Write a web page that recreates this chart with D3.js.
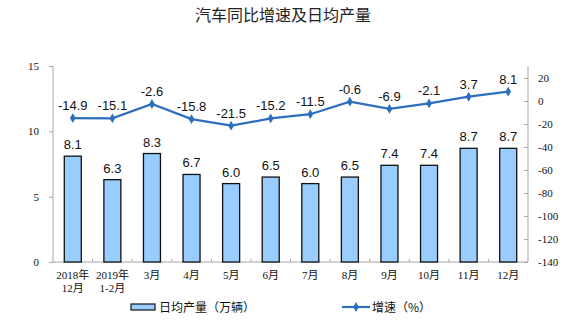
<!DOCTYPE html>
<html>
<head>
<meta charset="utf-8">
<script src="https://cdn.jsdelivr.net/npm/d3@7/dist/d3.min.js"></script>
<style>
  html, body { margin: 0; padding: 0; background: #fff; }
  svg { display: block; }
</style>
</head>
<body>
<svg id="chart" width="575" height="327"></svg>
<script>
// Monthly categories (two-line labels)
const categories = [["2018年", "12月"], ["2019年", "1-2月"], ["3月"], ["4月"], ["5月"], ["6月"], ["7月"], ["8月"], ["9月"], ["10月"], ["11月"], ["12月"]];
// Daily average output (10k vehicles)
const dailyOutput = [8.1, 6.3, 8.3, 6.7, 6.0, 6.5, 6.0, 6.5, 7.4, 7.4, 8.7, 8.7];
// Year-on-year growth (%)
const growth = [-14.9, -15.1, -2.6, -15.8, -21.5, -15.2, -11.5, -0.6, -6.9, -2.1, 3.7, 8.1];
const leftTicks = [0, 5, 10, 15];
const rightTicks = [20, 0, -20, -40, -60, -80, -100, -120, -140];

const svg = d3.select("#chart");
const plot = { left: 53, right: 528, top: 66, bottom: 262 };

const x = d3.scaleBand()
  .domain(d3.range(categories.length))
  .range([plot.left, plot.right])
  .paddingInner(0)
  .paddingOuter(0);
const yL = d3.scaleLinear().domain([0, 15]).range([plot.bottom, plot.top]);
const yR = d3.scaleLinear().domain([-140, 30.4]).range([plot.bottom, plot.top]);

// plain hyphen-minus formatting
const fmt1 = d => d.toFixed(1);
const fmt0 = d => String(d);

const axisColor = "#a6a6a6";
const serif = "'Liberation Serif', 'Times New Roman', 'Noto Sans CJK SC', serif";
const sans = "'Liberation Sans', Arial, 'Noto Sans CJK SC', sans-serif";
const cjk = "'Noto Sans CJK SC', sans-serif";

// Title
svg.append("text")
  .attr("x", 283).attr("y", 21)
  .attr("text-anchor", "middle")
  .attr("font-family", cjk)
  .attr("font-size", 16)
  .attr("fill", "#222")
  .text("汽车同比增速及日均产量");

// Left axis
const gL = svg.append("g").attr("transform", `translate(${plot.left},0)`)
  .call(d3.axisLeft(yL).tickValues(leftTicks).tickSize(4).tickPadding(10).tickFormat(fmt0));
// Right axis
const gR = svg.append("g").attr("transform", `translate(${plot.right},0)`)
  .call(d3.axisRight(yR).tickValues(rightTicks).tickSize(4).tickPadding(6).tickFormat(fmt0));
[gL, gR].forEach(g => {
  g.select(".domain").attr("stroke", axisColor);
  g.selectAll(".tick line").attr("stroke", axisColor);
  g.selectAll(".tick text").attr("font-family", serif).attr("font-size", 11).attr("fill", "#111");
});
gL.select(".domain").attr("d", `M0,${plot.top}V${plot.bottom}`);
gR.select(".domain").attr("d", `M0,${plot.top}V${plot.bottom}`);
gR.selectAll(".tick line").attr("x2", -4);

// Bottom axis with ticks between categories
const gX = svg.append("g").attr("transform", `translate(0,${plot.bottom})`);
gX.append("line").attr("x1", plot.left).attr("x2", plot.right).attr("stroke", axisColor);
gX.selectAll("line.sep").data(d3.range(1, categories.length)).join("line")
  .attr("class", "sep")
  .attr("x1", i => x(i)).attr("x2", i => x(i))
  .attr("y1", 0).attr("y2", -3)
  .attr("stroke", axisColor);
gX.selectAll("text.cat").data(categories).join("text")
  .attr("class", "cat")
  .attr("font-family", serif)
  .attr("font-size", 11)
  .attr("fill", "#111")
  .attr("text-anchor", "middle")
  .each(function (d, i) {
    const t = d3.select(this);
    d.forEach((line, k) => {
      t.append("tspan")
        .attr("x", x(i) + x.bandwidth() / 2)
        .attr("y", 17 + k * 13)
        .text(line);
    });
  });

// Bars
const barW = 17;
svg.append("g").selectAll("rect").data(dailyOutput).join("rect")
  .attr("x", (d, i) => x(i) + x.bandwidth() / 2 - barW / 2)
  .attr("y", d => yL(d))
  .attr("width", barW)
  .attr("height", d => yL(0) - yL(d))
  .attr("fill", "#99ccff")
  .attr("stroke", "#111")
  .attr("stroke-width", 1.3);
svg.append("g").selectAll("text").data(dailyOutput).join("text")
  .attr("x", (d, i) => x(i) + x.bandwidth() / 2)
  .attr("y", d => yL(d) - 7)
  .attr("text-anchor", "middle")
  .attr("font-family", sans)
  .attr("font-size", 13)
  .attr("fill", "#111")
  .text(fmt1);

// Growth line
const lineColor = "#2e6ebe";
const line = d3.line()
  .x((d, i) => x(i) + x.bandwidth() / 2)
  .y(d => yR(d));
svg.append("path").datum(growth)
  .attr("d", line)
  .attr("fill", "none")
  .attr("stroke", lineColor)
  .attr("stroke-width", 2.2);
const diamond = d3.symbol().type(d3.symbolDiamond).size(28);
svg.append("g").selectAll("path").data(growth).join("path")
  .attr("d", diamond)
  .attr("transform", (d, i) => `translate(${x(i) + x.bandwidth() / 2},${yR(d)})`)
  .attr("fill", lineColor);
svg.append("g").selectAll("text").data(growth).join("text")
  .attr("x", (d, i) => x(i) + x.bandwidth() / 2)
  .attr("y", d => yR(d) - 8)
  .attr("text-anchor", "middle")
  .attr("font-family", sans)
  .attr("font-size", 13)
  .attr("fill", "#111")
  .text(fmt1);

// Legend
const lg = svg.append("g");
lg.append("rect").attr("x", 131).attr("y", 304).attr("width", 24).attr("height", 6)
  .attr("fill", "#99ccff").attr("stroke", "#111").attr("stroke-width", 1.2);
lg.append("text").attr("x", 159).attr("y", 312)
  .attr("font-family", cjk).attr("font-size", 12).attr("fill", "#111")
  .text("日均产量（万辆）");
lg.append("line").attr("x1", 342).attr("x2", 370).attr("y1", 307).attr("y2", 307)
  .attr("stroke", lineColor).attr("stroke-width", 2.2);
lg.append("path").attr("d", diamond).attr("transform", "translate(356,307)").attr("fill", lineColor);
lg.append("text").attr("x", 372).attr("y", 312)
  .attr("font-family", cjk).attr("font-size", 12).attr("fill", "#111")
  .text("增速（%）");
</script>
</body>
</html>
